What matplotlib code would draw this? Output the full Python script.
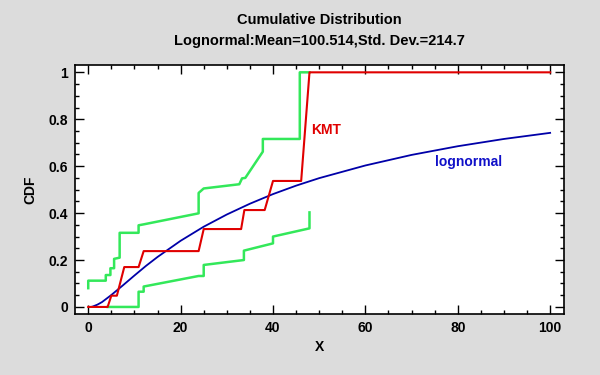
import matplotlib
matplotlib.use("Agg")
import matplotlib.pyplot as plt
from matplotlib.ticker import MultipleLocator

plt.rcParams['font.family'] = ['Liberation Sans', 'DejaVu Sans']
plt.rcParams['font.weight'] = 'bold'
plt.rcParams['axes.labelweight'] = 'bold'

# KMT estimate (red)
kmt_x = [0, 4.2, 5.0, 6.2, 7.8, 10.9, 12.0, 23.9, 25.0, 33.1, 33.8, 38.2, 40.0, 46.1, 47.9, 100]
kmt_y = [0, 0, 0.048, 0.048, 0.17, 0.17, 0.238, 0.238, 0.332, 0.332, 0.413, 0.413, 0.537, 0.537, 1.0, 1.0]

# upper confidence band (green)
upper_x = [0, 0, 3.8, 3.8, 4.8, 4.8, 5.6, 5.6, 6.8, 6.8, 10.9, 10.9, 12.0, 23.9, 23.9, 25.0,
           32.7, 33.3, 34.0, 37.8, 37.8, 45.8, 45.8, 47.9]
upper_y = [0.08, 0.112, 0.112, 0.136, 0.136, 0.165, 0.165, 0.205, 0.21, 0.316, 0.316, 0.348, 0.352, 0.399, 0.486, 0.505,
           0.523, 0.548, 0.55, 0.662, 0.716, 0.716, 1.0, 1.0]

# lower confidence band (green)
lower_x = [4.2, 10.9, 10.9, 12.0, 12.0, 23.9, 25.0, 25.0, 33.7, 33.7, 40.0, 40.0, 47.9, 47.9]
lower_y = [0, 0, 0.065, 0.065, 0.087, 0.132, 0.132, 0.179, 0.2, 0.24, 0.271, 0.30, 0.335, 0.403]

# fitted lognormal CDF (blue)
logn_x = [0.8, 1, 2, 3, 4, 5, 7.5, 10, 12.5, 15, 20, 25, 30, 35, 40, 45, 50, 60, 70, 80, 90, 100]
logn_y = [0.001, 0.002, 0.010, 0.021, 0.036, 0.051, 0.092, 0.134, 0.175, 0.213, 0.282, 0.342,
          0.394, 0.440, 0.481, 0.517, 0.549, 0.603, 0.648, 0.685, 0.716, 0.742]

bg = '#dcdcdc'
fig = plt.figure(figsize=(6, 3.75), dpi=100, facecolor=bg)
ax = fig.add_axes([0.1255, 0.1627, 0.8145, 0.6632])

ax.plot(upper_x, upper_y, color='#33e85a', lw=1.8)
ax.plot(lower_x, lower_y, color='#33e85a', lw=1.8)
ax.plot(logn_x, logn_y, color='#0000a8', lw=1.3)
ax.plot(kmt_x, kmt_y, color='#e00000', lw=1.5)

ax.text(48.3, 0.754, 'KMT', color='#e00000', fontsize=10, va='center', ha='left')
ax.text(75.1, 0.618, 'lognormal', color='#1010c8', fontsize=10, va='center', ha='left')

ax.set_xlim(-2.8, 103)
ax.set_ylim(-0.03, 1.03)
ax.xaxis.set_major_locator(MultipleLocator(20))
ax.xaxis.set_minor_locator(MultipleLocator(5))
ax.yaxis.set_major_locator(MultipleLocator(0.2))
ax.yaxis.set_minor_locator(MultipleLocator(0.05))
ax.set_yticks([0, 0.2, 0.4, 0.6, 0.8, 1.0])
ax.set_yticklabels(['0', '0.2', '0.4', '0.6', '0.8', '1'])
ax.tick_params(which='both', direction='in', top=True, right=True, labelsize=10, width=1, colors='black')
ax.tick_params(which='major', length=6.5, pad=5)
ax.tick_params(which='minor', length=3.2)
for s in ax.spines.values():
    s.set_linewidth(1.2)

ax.set_xlabel('X', fontsize=10, labelpad=4)
ax.set_ylabel('CDF', fontsize=10, labelpad=8)

fig.text(0.5325, 0.9467, 'Cumulative Distribution', ha='center', va='center', fontsize=10.5)
fig.text(0.5325, 0.8907, 'Lognormal:Mean=100.514,Std. Dev.=214.7', ha='center', va='center', fontsize=10.5)

fig.savefig('out.png', dpi=100, facecolor=bg)
